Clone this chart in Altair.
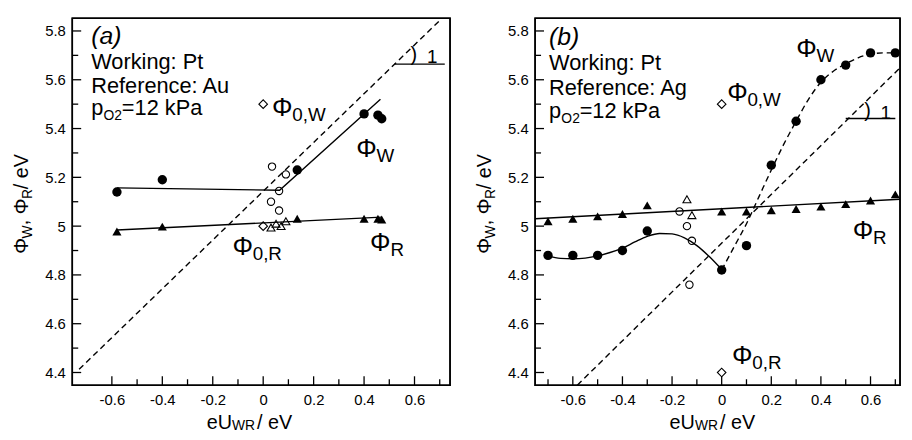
import altair as alt
import pandas as pd

FONT = "Liberation Sans"
NB = "\u00a0"

# ---------------- axes ----------------
a_xdom = [-0.757, 0.741]
b_xdom = [-0.752, 0.719]
ydom = [4.348, 5.852]
a_xticks = [-0.6, -0.5, -0.4, -0.3, -0.2, -0.1, 0.0, 0.1, 0.2, 0.3, 0.4, 0.5, 0.6, 0.7]
b_xticks = [-0.7, -0.6, -0.5, -0.4, -0.3, -0.2, -0.1, 0.0, 0.1, 0.2, 0.3, 0.4, 0.5, 0.6, 0.7]
yticks = [4.4, 4.5, 4.6, 4.7, 4.8, 4.9, 5.0, 5.1, 5.2, 5.3, 5.4, 5.5, 5.6, 5.7, 5.8]

# ---------------- panel (a): Working Pt, Reference Au ----------------
a_phiW_x = [-0.58, -0.40, 0.135, 0.40, 0.455, 0.47]
a_phiW_y = [5.14, 5.19, 5.23, 5.46, 5.455, 5.44]
a_phiR_x = [-0.58, -0.40, 0.135, 0.40, 0.455, 0.47]
a_phiR_y = [4.978, 4.998, 5.03, 5.03, 5.03, 5.027]
a_openc_x = [0.035, 0.09, 0.063, 0.031, 0.063]
a_openc_y = [5.244, 5.212, 5.144, 5.10, 5.064]
a_opent_x = [0.031, 0.051, 0.071, 0.09]
a_opent_y = [4.994, 5.01, 5.0, 5.02]
a_diam_x = [0.0, 0.0]
a_diam_y = [5.5, 5.0]
a_fitW_x = [-0.58, 0.065, 0.465]
a_fitW_y = [5.157, 5.147, 5.52]
a_fitR_x = [-0.58, 0.47]
a_fitR_y = [4.984, 5.037]
a_slope_x = [-0.73, 0.705]
a_slope_y = [4.413, 5.848]
a_mark_x = [0.52, 0.72]
a_mark_y = [5.664, 5.664]

a_head = "(a)"
a_head_xy = (-0.682, 5.748)
a_info = ["Working: Pt", "Reference: Au"]
a_info_x = [-0.682, -0.682]
a_info_y = [5.644, 5.545]
a_p_xy = (-0.682, 5.457)
a_phi_sub = ["0,W", "W", "0,R", "R"]
a_phi_x = [0.035, 0.369, -0.122, 0.424]
a_phi_y = [5.453, 5.285, 4.883, 4.899]
a_one_x = [0.584, 0.65]
a_one_y = [5.676, 5.668]

# ---------------- panel (b): Working Pt, Reference Ag ----------------
b_phiW_x = [-0.7, -0.6, -0.5, -0.4, -0.3, 0.0, 0.1, 0.2, 0.3, 0.4, 0.5, 0.6, 0.7]
b_phiW_y = [4.88, 4.88, 4.88, 4.90, 4.98, 4.82, 4.92, 5.25, 5.43, 5.60, 5.66, 5.71, 5.71]
b_phiR_x = [-0.7, -0.6, -0.5, -0.4, -0.3, 0.0, 0.1, 0.2, 0.3, 0.4, 0.5, 0.6, 0.7]
b_phiR_y = [5.02, 5.03, 5.04, 5.05, 5.085, 5.06, 5.06, 5.065, 5.07, 5.08, 5.09, 5.105, 5.13]
b_openc_x = [-0.17, -0.14, -0.12, -0.13]
b_openc_y = [5.06, 5.0, 4.94, 4.76]
b_opent_x = [-0.14, -0.12]
b_opent_y = [5.11, 5.045]
b_diam_x = [0.0, 0.0]
b_diam_y = [5.5, 4.4]
b_fitR_x = [-0.752, 0.719]
b_fitR_y = [5.03, 5.11]
b_curve_x = [-0.7, -0.65, -0.6, -0.55, -0.5, -0.45, -0.4, -0.35, -0.3, -0.25, -0.2, -0.15, -0.1, -0.05, 0.0]
b_curve_y = [4.878, 4.868, 4.866, 4.869, 4.878, 4.892, 4.91, 4.935, 4.958, 4.97, 4.968, 4.952, 4.92, 4.875, 4.822]
b_sig_x = [0.0, 0.05, 0.1, 0.15, 0.2, 0.25, 0.3, 0.35, 0.4, 0.45, 0.5, 0.55, 0.6, 0.65, 0.7, 0.719]
b_sig_y = [4.82, 4.915, 5.01, 5.12, 5.23, 5.335, 5.43, 5.52, 5.59, 5.635, 5.665, 5.69, 5.705, 5.71, 5.71, 5.71]
b_slope_x = [-0.582, 0.719]
b_slope_y = [4.348, 5.649]
b_mark_x = [0.50, 0.70]
b_mark_y = [5.441, 5.441]

b_head = "(b)"
b_head_xy = (-0.696, 5.744)
b_info = ["Working: Pt", "Reference: Ag"]
b_info_x = [-0.696, -0.696]
b_info_y = [5.64, 5.537]
b_p_xy = (-0.696, 5.445)
b_phi_sub = ["0,W", "W", "R", "0,R"]
b_phi_x = [0.022, 0.301, 0.528, 0.042]
b_phi_y = [5.513, 5.692, 4.946, 4.436]
b_one_x = [0.575, 0.64]
b_one_y = [5.449, 5.44]

# ---------------- layout helpers ----------------
PW_A, PW_B, PH = 382, 369, 371
MAJOR_LEN, MINOR_LEN = 9, 6
EM = {"Φ": 0.77, "W": 0.944, "R": 0.722, ",": 0.278, " ": 0.278, NB: 0.278, "/": 0.278,
      "e": 0.556, "V": 0.667, "U": 0.722, "0": 0.556}


def tw(s, size):
    return sum(EM.get(c, 0.556) for c in s) * size


LABEL_EXPR = ("abs(round(datum.value*10)) % 2 == 0 ? "
              "replace(format(datum.value, '.1~f'), '\u2212', '-') : ''")


def is_major(v):
    return round(v * 10) % 2 == 0


def axis(values, pad):
    return alt.Axis(values=values, labelExpr=LABEL_EXPR, title=None, domain=False,
                    grid=False, ticks=False, labelPadding=pad, labelFont=FONT,
                    labelFontSize=15, labelColor="black", labelFlush=False,
                    labelOverlap=False)


def encodings(xdom, xticks):
    X = alt.X("x:Q", scale=alt.Scale(domain=xdom, nice=False, zero=False), axis=axis(xticks, 8))
    Y = alt.Y("y:Q", scale=alt.Scale(domain=ydom, nice=False, zero=False), axis=axis(yticks, 7))
    return X, Y


def pts(xs, ys, shape, filled, size, X, Y):
    df = pd.DataFrame({"x": xs, "y": ys})
    return alt.Chart(df).mark_point(shape=shape, filled=filled, size=size, color="black",
                                    strokeWidth=1.1, opacity=1).encode(x=X, y=Y)


def line(xs, ys, X, Y, dash=None, interp="linear"):
    kw = dict(color="black", strokeWidth=1.4, interpolate=interp)
    if dash:
        kw["strokeDash"] = dash
    df = pd.DataFrame({"x": xs, "y": ys})
    return alt.Chart(df).mark_line(**kw).encode(x=X, y=Y)


def dtext(xs, ys, texts, size, X, Y, dx=0, dy=0, italic=False):
    df = pd.DataFrame({"x": xs, "y": ys, "t": texts})
    kw = dict(align="left", baseline="alphabetic", font=FONT, fontSize=size, color="black",
              dx=dx, dy=dy)
    if italic:
        kw["fontStyle"] = "italic"
    return alt.Chart(df).mark_text(**kw).encode(x=X, y=Y, text="t:N")


def ptext(xpx, ypx, s, size, angle=0):
    kw = dict(align="left", baseline="alphabetic", font=FONT, fontSize=size, color="black")
    if angle:
        kw["angle"] = angle
    return alt.Chart(pd.DataFrame({"t": [s]})).mark_text(**kw).encode(
        x=alt.value(xpx), y=alt.value(ypx), text="t:N")


def frame_and_ticks(xdom, xticks, X, Y, width):
    # inward tick segments and the plot frame, drawn as lines through the scales
    ux = (xdom[1] - xdom[0]) / width      # data units per pixel (x)
    uy = (ydom[1] - ydom[0]) / PH         # data units per pixel (y)
    rows = []
    k = 0
    for v in xticks:
        ln = MAJOR_LEN if is_major(v) else MINOR_LEN
        rows += [{"x": v, "y": ydom[0], "id": k}, {"x": v, "y": ydom[0] + ln * uy, "id": k}]
        k += 1
    for v in yticks:
        ln = MAJOR_LEN if is_major(v) else MINOR_LEN
        rows += [{"x": xdom[0], "y": v, "id": k}, {"x": xdom[0] + ln * ux, "y": v, "id": k}]
        k += 1
    ticks = alt.Chart(pd.DataFrame(rows)).mark_line(color="black", strokeWidth=1.3).encode(
        x=X, y=Y, detail="id:N")
    fx = [xdom[0], xdom[1], xdom[1], xdom[0], xdom[0]]
    fy = [ydom[0], ydom[0], ydom[1], ydom[1], ydom[0]]
    frame = alt.Chart(pd.DataFrame({"x": fx, "y": fy, "o": [0, 1, 2, 3, 4]})).mark_line(
        color="black", strokeWidth=1.6, strokeCap="square").encode(
        x=X, y=Y, order=alt.Order("o:Q"))
    return [ticks, frame]


def titles(xstart):
    layers = []
    # y title, rotated, reading upward
    pieces = [("Φ", 20, False), ("W", 14, True), ("," + NB + "Φ", 20, False), ("R", 14, True),
              (NB + "/" + NB + "eV", 20, False)]
    y = 238
    for s, fs, sub in pieces:
        layers.append(ptext(-40.5 if sub else -44.5, y, s, fs, angle=270))
        y -= tw(s, fs)
    # x title
    xp = [("eU", 20, False), ("WR", 14, True), (NB + "/" + NB + "eV", 20, False)]
    x = xstart
    for s, fs, sub in xp:
        layers.append(ptext(x, 416.5 if sub else 415, s, fs))
        x += tw(s, fs) + (2 if sub else 0)
    return layers


def panel(xdom, xticks, width, d, xstart):
    X, Y = encodings(xdom, xticks)
    layers = []
    for lx, ly, dash, interp in d["lines"]:
        layers.append(line(lx, ly, X, Y, dash, interp))
    layers.append(line(d["mark"][0], d["mark"][1], X, Y))
    layers += frame_and_ticks(xdom, xticks, X, Y, width)
    layers.append(pts(d["phiW"][0], d["phiW"][1], "circle", True, 90, X, Y))
    layers.append(pts(d["phiR"][0], d["phiR"][1], "triangle-up", True, 85, X, Y))
    layers.append(pts(d["openc"][0], d["openc"][1], "circle", False, 55, X, Y))
    layers.append(pts(d["opent"][0], d["opent"][1], "triangle-up", False, 65, X, Y))
    layers.append(pts(d["diam"][0], d["diam"][1], "diamond", False, 75, X, Y))
    hx, hy = d["head_xy"]
    layers.append(dtext([hx], [hy], [d["head"]], 25, X, Y, italic=True))
    layers.append(dtext(d["info_x"], d["info_y"], d["info"], 22, X, Y))
    px, py = d["p_xy"]
    layers.append(dtext([px], [py], ["p"], 22, X, Y))
    layers.append(dtext([px], [py], ["O2"], 14, X, Y, dx=12.5, dy=5))
    layers.append(dtext([px], [py], ["=12 kPa"], 22, X, Y, dx=31))
    layers.append(dtext(d["phi_x"], d["phi_y"], ["Φ"] * len(d["phi_x"]), 26, X, Y))
    layers.append(dtext(d["phi_x"], d["phi_y"], d["phi_sub"], 19, X, Y, dx=20.5, dy=5))
    layers.append(dtext([d["one_x"][0]], [d["one_y"][0]], [")"], 20, X, Y))
    layers.append(dtext([d["one_x"][1]], [d["one_y"][1]], ["1"], 19, X, Y))
    layers += titles(xstart)
    return alt.layer(*layers).properties(width=width, height=PH)


A = dict(lines=[(a_fitW_x, a_fitW_y, None, "linear"), (a_fitR_x, a_fitR_y, None, "linear"),
                (a_slope_x, a_slope_y, [6, 4], "linear")],
         mark=(a_mark_x, a_mark_y), phiW=(a_phiW_x, a_phiW_y), phiR=(a_phiR_x, a_phiR_y),
         openc=(a_openc_x, a_openc_y), opent=(a_opent_x, a_opent_y), diam=(a_diam_x, a_diam_y),
         head=a_head, head_xy=a_head_xy, info=a_info, info_x=a_info_x, info_y=a_info_y,
         p_xy=a_p_xy, phi_sub=a_phi_sub, phi_x=a_phi_x, phi_y=a_phi_y,
         one_x=a_one_x, one_y=a_one_y)
B = dict(lines=[(b_fitR_x, b_fitR_y, None, "linear"), (b_curve_x, b_curve_y, None, "monotone"),
                (b_sig_x, b_sig_y, [6, 4], "monotone"), (b_slope_x, b_slope_y, [6, 4], "linear")],
         mark=(b_mark_x, b_mark_y), phiW=(b_phiW_x, b_phiW_y), phiR=(b_phiR_x, b_phiR_y),
         openc=(b_openc_x, b_openc_y), opent=(b_opent_x, b_opent_y), diam=(b_diam_x, b_diam_y),
         head=b_head, head_xy=b_head_xy, info=b_info, info_x=b_info_x, info_y=b_info_y,
         p_xy=b_p_xy, phi_sub=b_phi_sub, phi_x=b_phi_x, phi_y=b_phi_y,
         one_x=b_one_x, one_y=b_one_y)

pa = panel(a_xdom, a_xticks, PW_A, A, 136)
pb = panel(b_xdom, b_xticks, PW_B, B, 136)

chart = alt.hconcat(pa, pb, spacing=86, bounds="flush").properties(
    padding={"left": 3, "top": 4, "right": 0, "bottom": 0}
).configure_view(stroke="black", strokeWidth=1.5)

chart.save("out.html", embed_options={"renderer": "svg", "actions": False})
